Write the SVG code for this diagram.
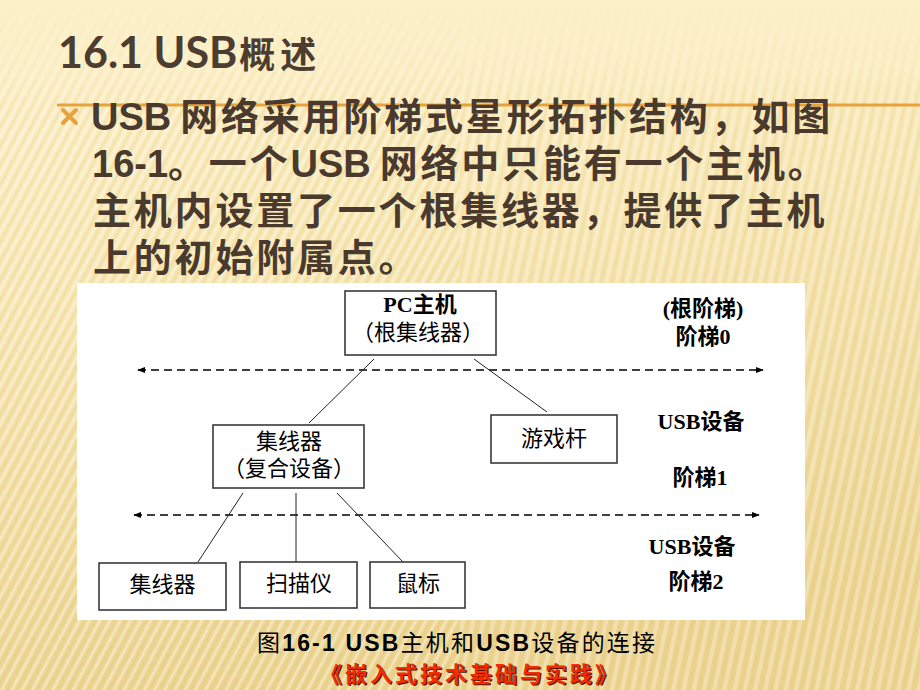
<svg xmlns="http://www.w3.org/2000/svg" width="920" height="690" viewBox="0 0 920 690">
  <defs>
    <linearGradient id="bg" x1="0" y1="0" x2="0.25" y2="1">
      <stop offset="0" stop-color="#fcf0c9"/>
      <stop offset="0.35" stop-color="#f8e8b6"/>
      <stop offset="1" stop-color="#ebd38f"/>
    </linearGradient>
    <linearGradient id="topfade" x1="0" y1="0" x2="0" y2="1">
      <stop offset="0" stop-color="#fcf0c9" stop-opacity="1"/>
      <stop offset="0.6" stop-color="#fcf0c9" stop-opacity="0.6"/>
      <stop offset="1" stop-color="#fcf0c9" stop-opacity="0"/>
    </linearGradient>
    <pattern id="stripesL" width="9" height="9" patternUnits="userSpaceOnUse" patternTransform="rotate(28)">
      <rect x="0" y="0" width="3" height="9" fill="#ffffff" opacity="0.35"/>
      <rect x="5" y="0" width="2" height="9" fill="#d9bd70" opacity="0.18"/>
    </pattern>
    <pattern id="stripesR" width="10" height="10" patternUnits="userSpaceOnUse" patternTransform="rotate(12)">
      <rect x="0" y="0" width="4" height="10" fill="#ffffff" opacity="0.28"/>
      <rect x="6" y="0" width="2" height="10" fill="#d9bd70" opacity="0.15"/>
    </pattern>
    <marker id="arr" viewBox="0 0 10 10" refX="9" refY="5" markerWidth="8" markerHeight="8" markerUnits="userSpaceOnUse" orient="auto-start-reverse">
      <path d="M0,1 L10,5 L0,9 Z" fill="#000"/>
    </marker>
    <style>
      .title { font-family: Lato, "Liberation Sans", "Noto Sans CJK SC", sans-serif; font-size: 43px; font-weight: bold; fill: #4d3d31; }
      .body { font-family: "Liberation Sans", "Noto Sans CJK SC", sans-serif; font-size: 38px; font-weight: bold; fill: #4a3a2e; }
      .cj { letter-spacing: 2.8px; }
      .box { fill: #ffffff; stroke: #3a3a3a; stroke-width: 1.6; }
      .lbl { font-family: "Liberation Serif", "Noto Sans CJK SC", serif; font-size: 22px; fill: #000; text-anchor: middle; }
      .side { font-family: "Liberation Serif", "Noto Sans CJK SC", serif; font-size: 22px; font-weight: bold; fill: #000; text-anchor: middle; }
      .link { stroke: #222; stroke-width: 1; fill: none; }
      .dash { stroke: #000; stroke-width: 1.3; stroke-dasharray: 8 5; fill: none; }
      .cap { font-family: "Liberation Sans", "Noto Sans CJK SC", sans-serif; font-size: 23px; fill: #000; }
      .book { font-family: "Noto Sans CJK SC", sans-serif; font-size: 22px; font-weight: bold; letter-spacing: 3px; text-anchor: middle; }
    </style>
  </defs>

  <!-- background -->
  <rect x="0" y="0" width="920" height="690" fill="url(#bg)"/>
  <rect x="0" y="0" width="460" height="690" fill="url(#stripesL)"/>
  <rect x="460" y="0" width="460" height="690" fill="url(#stripesR)"/>
  <rect x="0" y="0" width="920" height="110" fill="url(#topfade)"/>

  <!-- title -->
  <text class="title" x="58" y="68">16.1 USB<tspan font-size="36" font-family="'Noto Sans CJK SC', sans-serif" letter-spacing="5" dx="2">概述</tspan></text>

  <!-- orange rule and bullet -->
  <line x1="57" y1="105" x2="920" y2="105" stroke="#e9a23b" stroke-width="3"/>
  <path d="M63,110 L76,123 M76,110 L63,123" stroke="#e9a23b" stroke-width="4" stroke-linecap="round"/>

  <!-- body text -->
  <text class="body" x="91" y="130">USB<tspan class="cj" dx="9">网络采用阶梯式星形拓扑结构，如图</tspan></text>
  <text class="body" x="92" y="177">16-1<tspan class="cj">。一个</tspan>USB<tspan class="cj" dx="9">网络中只能有一个主机。</tspan></text>
  <text class="body" x="93" y="224"><tspan class="cj">主机内设置了一个根集线器，提供了主机</tspan></text>
  <text class="body" x="93" y="271"><tspan class="cj">上的初始附属点。</tspan></text>

  <!-- diagram panel -->
  <rect x="77" y="283" width="728" height="337" fill="#ffffff"/>

  <!-- connectors -->
  <g id="connectors">
    <line class="dash" x1="138" y1="370" x2="763" y2="370" marker-start="url(#arr)" marker-end="url(#arr)"/>
    <line class="dash" x1="134" y1="515" x2="759" y2="515" marker-start="url(#arr)" marker-end="url(#arr)"/>
    <line class="link" x1="374" y1="359" x2="309" y2="423"/>
    <line class="link" x1="474" y1="359" x2="547" y2="412"/>
    <line class="link" x1="243" y1="493" x2="198" y2="562"/>
    <line class="link" x1="296" y1="493" x2="296" y2="562"/>
    <line class="link" x1="337" y1="493" x2="403" y2="562"/>
  </g>

  <!-- nodes -->
  <g id="pc-host">
    <rect class="box" x="345" y="291" width="151" height="64"/>
    <text class="lbl" x="420" y="312" font-weight="bold" font-size="21">PC主机</text>
    <text class="lbl" x="418" y="340" font-size="20.5">（根集线器）</text>
  </g>
  <g id="hub-composite">
    <rect class="box" x="213" y="425" width="151" height="63"/>
    <text class="lbl" x="289" y="449">集线器</text>
    <text class="lbl" x="289" y="476" font-size="20.5">（复合设备）</text>
  </g>
  <g id="joystick">
    <rect class="box" x="491" y="415" width="126" height="48"/>
    <text class="lbl" x="554" y="446">游戏杆</text>
  </g>
  <g id="hub2">
    <rect class="box" x="99" y="563" width="127" height="47"/>
    <text class="lbl" x="162.5" y="592">集线器</text>
  </g>
  <g id="scanner">
    <rect class="box" x="240" y="562" width="117" height="46"/>
    <text class="lbl" x="299" y="591">扫描仪</text>
  </g>
  <g id="mouse">
    <rect class="box" x="370" y="562" width="95" height="46"/>
    <text class="lbl" x="418" y="591">鼠标</text>
  </g>

  <!-- tier labels -->
  <g id="tier-labels">
    <text class="side" x="703" y="316">(根阶梯)</text>
    <text class="side" x="703" y="344">阶梯0</text>
    <text class="side" x="701" y="429">USB设备</text>
    <text class="side" x="700" y="485">阶梯1</text>
    <text class="side" x="692" y="554">USB设备</text>
    <text class="side" x="696" y="589">阶梯2</text>
  </g>

  <!-- caption -->
  <text class="cap" x="257" y="651" textLength="398" lengthAdjust="spacing">图<tspan font-weight="bold">16-1 USB</tspan>主机和<tspan font-weight="bold">USB</tspan>设备的连接</text>
  <text class="book" x="471.3" y="683.2" fill="#4a1200">《嵌入式技术基础与实践》</text>
  <text class="book" x="470" y="682" fill="#f42a00">《嵌入式技术基础与实践》</text>
</svg>
